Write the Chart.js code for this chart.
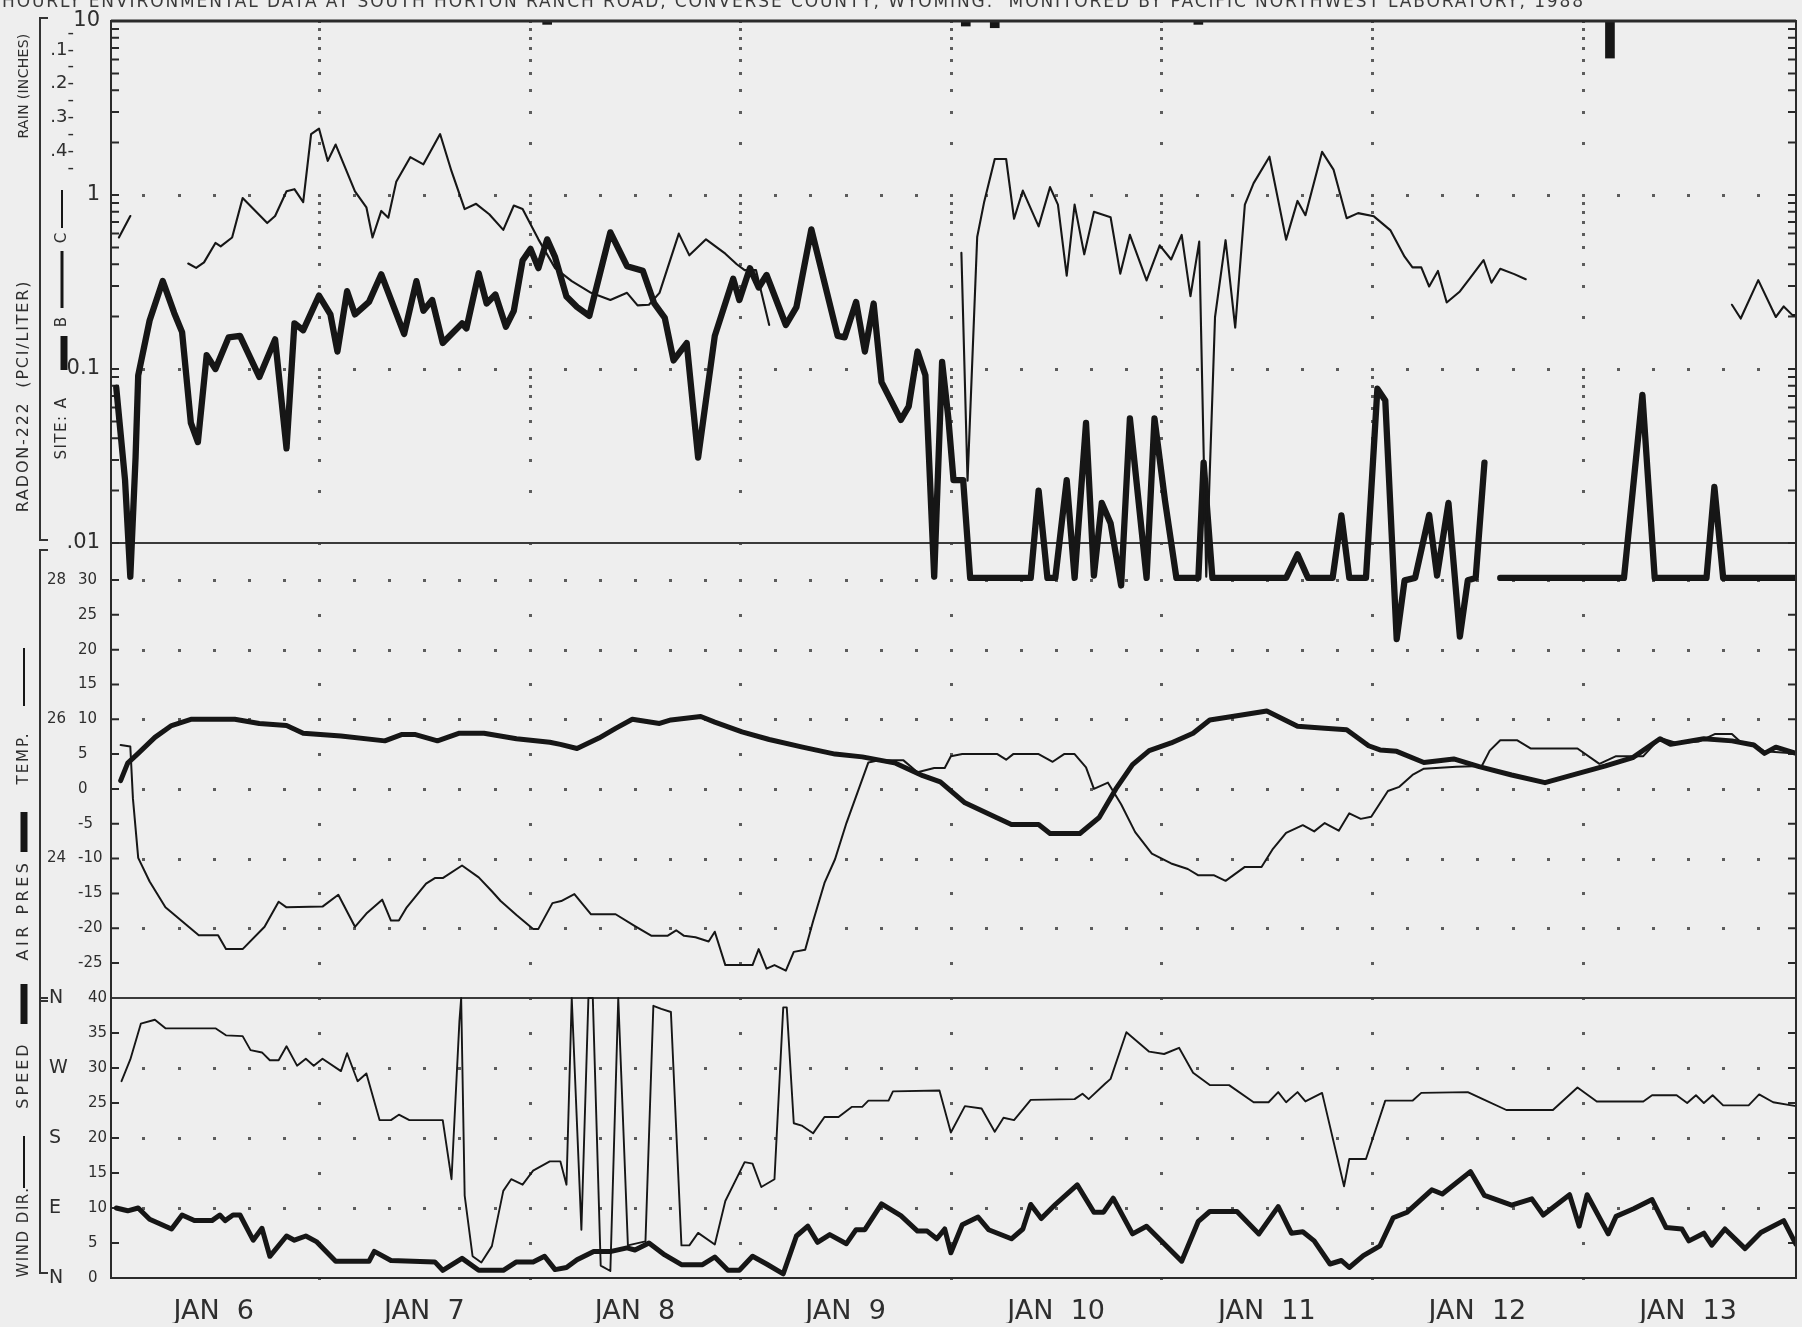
<!DOCTYPE html>
<html>
<head>
<meta charset="utf-8">
<title>Radon-222 and weather record, Jan 6 - Jan 13</title>
<script src="https://cdn.jsdelivr.net/npm/chart.js@4.4.1/dist/chart.umd.min.js"></script>
<style>
  html, body { margin: 0; padding: 0; background: #eeeeee; }
  #wrap { position: relative; width: 1802px; height: 1327px; overflow: hidden; }
  canvas { display: block; }
</style>
</head>
<body>
<div id="wrap"><canvas id="plot" width="1802" height="1327"></canvas></div>
<script>
// Time axis: hours since 00:00 on January 6.
const dayLabels = ['JAN  6', 'JAN  7', 'JAN  8', 'JAN  9', 'JAN  10', 'JAN  11', 'JAN  12', 'JAN  13'];
const dayLabelHours = [12, 36, 60, 84, 108, 132, 156, 180];

// Radon-222 concentration (pCi/L), site A (heavy trace)
const radonAHours = [0.9, 1.9, 2.5, 3.1, 3.4, 4.7, 6.2, 7.5, 8.4, 9.4, 10.2, 11.2, 12.2, 13.7, 15.0, 17.2, 19.0, 20.3, 21.2, 22.2,
  24.0, 25.3, 26.1, 27.2, 28.1, 29.7, 31.1, 33.7, 35.1, 35.9, 36.9, 38.1, 40.3, 40.8, 42.2, 43.1, 44.1, 45.3, 46.2, 47.2,
  48.1, 49.0, 50.0, 50.9, 52.2, 53.4, 54.8, 57.2, 59.1, 60.9, 62.2, 63.4, 64.4, 65.9, 67.2, 69.1, 71.2, 71.9, 73.1, 74.1,
  75.0, 77.2, 78.4, 80.1, 83.1, 83.9, 85.2, 86.2, 87.2, 88.1, 90.3, 91.2, 92.2, 93.1, 94.1, 95.0, 95.7, 96.3, 97.4, 98.2,
  105.1, 106.0, 107.0, 107.9, 109.2, 110.1, 111.4, 112.3, 113.2, 114.2, 115.4, 116.4, 118.3, 119.2, 120.4, 121.7, 124.2, 124.8, 125.8, 134.2,
  135.5, 136.7, 139.5, 140.5, 141.4, 143.3, 144.6, 145.5, 146.8, 147.7, 148.9, 150.5, 151.4, 152.7, 154.0, 154.9, 155.8, 156.8, 157.7, 158.6,
  172.7, 174.8, 176.2, 182.1, 183.0, 184.0, 192.3];
const radonAValues = [0.078, 0.023, 0.0064, 0.031, 0.092, 0.19, 0.32, 0.21, 0.163, 0.049, 0.038, 0.12, 0.10, 0.152, 0.155, 0.090, 0.148, 0.035, 0.183, 0.167,
  0.264, 0.206, 0.126, 0.28, 0.206, 0.243, 0.35, 0.159, 0.32, 0.216, 0.249, 0.141, 0.183, 0.171, 0.355, 0.238, 0.268, 0.175, 0.216, 0.42,
  0.49, 0.38, 0.556, 0.44, 0.261, 0.227, 0.202, 0.61, 0.39, 0.367, 0.238, 0.197, 0.112, 0.141, 0.031, 0.155, 0.33, 0.249, 0.38, 0.294,
  0.347, 0.179, 0.227, 0.635, 0.155, 0.152, 0.243, 0.126, 0.238, 0.084, 0.051, 0.061, 0.126, 0.092, 0.0064, 0.11, 0.053, 0.023, 0.023, 0.0063,
  0.0063, 0.020, 0.0063, 0.0063, 0.023, 0.0063, 0.049, 0.0065, 0.017, 0.013, 0.0057, 0.052, 0.0063, 0.052, 0.0175, 0.0063, 0.0063, 0.029, 0.0063, 0.0063,
  0.0086, 0.0063, 0.0063, 0.0144, 0.0063, 0.0063, 0.077, 0.066, 0.0028, 0.0061, 0.0063, 0.0145, 0.0065, 0.017, 0.0029, 0.0061, 0.0063, 0.029, null, 0.0063,
  0.0063, 0.071, 0.0063, 0.0063, 0.021, 0.0063, 0.0063];

// Radon-222 concentration (pCi/L), site C (light trace)
const radonCHours = [1.2, 2.5, 5.0, 9.1, 10.0, 10.9, 12.2, 12.8, 14.1, 15.3, 18.1, 19.0, 20.3, 21.2, 22.2, 23.1, 24.0, 25.0, 25.9, 28.1,
  29.4, 30.1, 31.1, 31.9, 32.8, 34.4, 35.9, 37.8, 39.1, 40.6, 41.9, 43.4, 45.0, 46.2, 47.2, 49.0, 50.9, 52.8, 55.0, 57.2,
  59.1, 60.3, 61.6, 62.8, 65.0, 66.2, 68.1, 70.3, 71.6, 72.5, 73.8, 75.3, 86.0, 97.2, 97.9, 99.0, 99.8, 101.0, 102.3, 103.2,
  104.2, 106.0, 107.3, 108.2, 109.2, 110.1, 111.2, 112.3, 114.2, 115.3, 116.4, 118.3, 119.8, 121.1, 122.3, 123.3, 124.3, 125.1, 126.1, 127.3,
  128.4, 129.5, 130.5, 132.3, 134.2, 135.5, 136.4, 138.3, 139.6, 141.1, 142.4, 144.2, 146.1, 147.7, 148.6, 149.6, 150.5, 151.5, 152.5, 154.0,
  155.2, 156.7, 157.6, 158.6, 160.2, 161.5, 173.0, 185.0, 186.0, 188.0, 190.0, 190.9, 191.9, 192.3];
const radonCValues = [0.57, 0.757, null, 0.404, 0.381, 0.41, 0.53, 0.507, 0.57, 0.96, 0.69, 0.757, 1.05, 1.08, 0.91, 2.24, 2.41, 1.57, 1.95, 1.05,
  0.85, 0.57, 0.81, 0.74, 1.19, 1.65, 1.5, 2.24, 1.37, 0.83, 0.89, 0.775, 0.63, 0.87, 0.83, 0.556, 0.38, 0.32, 0.274, 0.249,
  0.274, 0.232, 0.234, 0.274, 0.60, 0.45, 0.556, 0.46, 0.40, 0.37, 0.37, 0.179, null, 0.465, 0.0228, 0.574, 0.916, 1.61, 1.61, 0.73,
  1.06, 0.66, 1.11, 0.88, 0.344, 0.88, 0.456, 0.80, 0.745, 0.353, 0.59, 0.323, 0.514, 0.426, 0.59, 0.262, 0.54, 0.0064, 0.199, 0.55,
  0.173, 0.88, 1.17, 1.66, 0.554, 0.925, 0.766, 1.77, 1.40, 0.735, 0.787, 0.754, 0.626, 0.442, 0.384, 0.384, 0.298, 0.366, 0.241, 0.279,
  0.335, 0.423, 0.313, 0.377, 0.351, 0.328, null, 0.234, 0.195, 0.324, 0.199, 0.229, 0.204, 0.204];

// Rain (inches)
const rainHours = [50.0, 97.7, 101.0, 124.2, 171.1];
const rainInches = [0.01, 0.015, 0.02, 0.01, 0.11];

// Air temperature (light trace)
const tempHours = [1.4, 2.5, 2.8, 3.4, 4.7, 6.5, 8.4, 10.3, 12.5, 13.4, 15.3, 17.8, 19.4, 20.3, 24.4, 26.2, 28.1, 29.4, 31.2, 32.2,
  33.1, 34.0, 36.2, 37.2, 38.1, 40.3, 42.2, 43.7, 44.7, 46.5, 48.4, 49.0, 50.6, 51.6, 53.1, 55.0, 57.8, 60.0, 61.9, 63.7,
  64.7, 65.6, 66.9, 68.4, 69.1, 70.3, 73.4, 74.1, 75.0, 75.9, 77.2, 78.1, 79.4, 80.3, 81.6, 82.8, 84.1, 86.6, 87.8, 90.6,
  92.2, 94.1, 95.3, 96.0, 97.3, 101.3, 102.3, 103.1, 106.0, 107.6, 108.9, 110.1, 111.4, 112.3, 113.9, 115.4, 117.0, 118.9, 121.1, 123.0,
  124.2, 126.0, 127.3, 129.5, 131.4, 132.7, 134.2, 136.1, 137.4, 138.6, 140.2, 141.4, 142.7, 143.9, 145.8, 147.1, 148.6, 149.9, 153.6, 156.5,
  157.4, 158.6, 160.5, 162.1, 167.4, 169.9, 171.8, 174.9, 176.8, 178.7, 181.2, 183.1, 185.0, 186.2, 187.4, 188.7, 192.3];
const tempValues = [6.3, 6.1, -1.4, -9.9, -13.3, -17.0, -19.0, -21.0, -21.0, -23.0, -23.0, -19.8, -16.2, -17.0, -16.9, -15.2, -19.8, -17.9, -15.9, -18.9,
  -18.9, -17.0, -13.6, -12.8, -12.8, -11.0, -12.7, -14.7, -16.1, -18.1, -20.1, -20.1, -16.4, -16.1, -15.1, -18.0, -18.0, -19.7, -21.1, -21.1,
  -20.3, -21.1, -21.3, -21.9, -20.5, -25.3, -25.3, -23.0, -25.8, -25.3, -26.1, -23.4, -23.1, -19.0, -13.5, -10.1, -4.9, 3.8, 4.1, 4.1,
  2.4, 3.0, 3.0, 4.7, 5.0, 5.0, 4.2, 5.0, 5.0, 3.9, 5.0, 5.0, 3.1, 0.0, 0.9, -2.2, -6.2, -9.3, -10.7, -11.5,
  -12.4, -12.4, -13.2, -11.2, -11.2, -8.6, -6.3, -5.2, -6.1, -4.9, -6.0, -3.5, -4.3, -4.0, -0.3, 0.3, 2.0, 2.9, 3.2, 3.3,
  5.5, 7.0, 7.0, 5.8, 5.8, 3.6, 4.7, 4.7, 7.3, 6.6, 6.8, 7.9, 7.9, 6.5, 6.5, 5.4, 5.1];

// Air pressure (heavy trace)
const pressureHours = [1.4, 2.2, 3.4, 5.3, 7.2, 9.4, 14.4, 17.2, 20.3, 22.2, 26.5, 31.5, 33.4, 35.0, 37.5, 40.0, 42.8, 46.5, 50.3, 51.5,
  53.4, 55.9, 57.8, 59.7, 62.8, 64.1, 67.5, 69.1, 72.2, 75.3, 79.1, 82.8, 85.9, 89.7, 92.8, 94.8, 97.6, 101.0, 102.9, 106.0,
  107.3, 110.7, 112.9, 114.8, 116.7, 118.6, 121.1, 123.6, 125.5, 128.6, 132.0, 135.5, 138.6, 141.1, 143.6, 144.9, 146.8, 149.9, 153.3, 156.2,
  159.9, 163.7, 167.4, 170.6, 173.7, 176.8, 178.0, 181.8, 185.0, 187.5, 188.7, 190.0, 192.3];
const pressureValues = [25.12, 25.37, 25.51, 25.74, 25.91, 26.0, 26.0, 25.94, 25.91, 25.8, 25.76, 25.69, 25.78, 25.78, 25.69, 25.8, 25.8, 25.72, 25.67, 25.64,
  25.58, 25.73, 25.87, 26.0, 25.94, 25.99, 26.04, 25.96, 25.82, 25.71, 25.6, 25.5, 25.46, 25.37, 25.19, 25.1, 24.8, 24.6, 24.49, 24.49,
  24.36, 24.36, 24.59, 25.0, 25.35, 25.55, 25.66, 25.8, 25.99, 26.05, 26.12, 25.9, 25.87, 25.85, 25.62, 25.56, 25.54, 25.38, 25.43, 25.32,
  25.2, 25.09, 25.22, 25.33, 25.45, 25.72, 25.64, 25.72, 25.69, 25.63, 25.51, 25.6, 25.51];

// Wind direction (degrees from north, light trace)
const windDirHours = [1.5, 2.5, 3.7, 5.3, 6.5, 12.2, 13.4, 15.3, 16.2, 17.5, 18.4, 19.4, 20.3, 21.5, 22.5, 23.4, 24.4, 26.5, 27.2, 28.4,
  29.4, 30.9, 32.2, 33.1, 34.3, 38.1, 39.1, 40.0, 40.2, 40.6, 41.5, 42.5, 43.7, 45.0, 45.9, 47.2, 48.4, 50.3, 51.5, 52.2,
  52.8, 53.9, 54.7, 55.2, 56.1, 57.2, 58.1, 59.2, 61.2, 62.1, 63.0, 64.1, 65.3, 66.2, 67.2, 69.1, 70.3, 72.5, 73.4, 74.4,
  75.9, 76.9, 77.3, 78.1, 79.0, 80.3, 81.6, 83.2, 84.7, 85.9, 86.6, 88.9, 89.4, 94.7, 96.0, 97.6, 99.5, 101.0, 102.0, 103.2,
  105.1, 110.1, 111.0, 111.7, 113.6, 114.2, 116.0, 118.6, 120.3, 122.0, 123.6, 125.5, 127.7, 130.5, 132.2, 133.3, 134.2, 135.5, 136.4, 138.3,
  140.8, 141.4, 143.3, 145.5, 148.6, 149.6, 154.9, 156.8, 159.3, 164.6, 167.4, 169.6, 174.9, 175.9, 178.7, 179.9, 180.9, 181.8, 182.8, 184.0,
  186.9, 188.1, 189.7, 192.3];
const windDirValues = [253, 281, 327, 332, 321, 321, 312, 311, 293, 290, 280, 280, 298, 273, 282, 273, 282, 266, 289, 253,
  263, 203, 203, 210, 203, 203, 127, 330, 360, 106, 28, 20, 41, 112, 127, 120, 138, 150, 150, 120,
  360, 62, 360, 360, 16, 9, 360, 42, 47, 350, 346, 342, 42, 42, 58, 43, 99, 149, 147, 117,
  127, 348, 348, 199, 196, 186, 207, 207, 220, 220, 228, 228, 240, 241, 187, 221, 218, 188, 206, 203,
  229, 230, 237, 230, 250, 256, 316, 291, 288, 296, 264, 248, 248, 226, 226, 239, 226, 239, 227, 238,
  118, 153, 153, 228, 228, 238, 239, 229, 216, 216, 245, 227, 227, 235, 235, 225, 235, 225, 235, 222,
  222, 236, 226, 221];

// Wind speed (heavy trace)
const windSpeedHours = [0.9, 2.2, 3.4, 4.7, 7.2, 8.4, 9.8, 11.8, 12.7, 13.3, 14.2, 15.0, 16.5, 17.5, 18.4, 20.3, 21.2, 22.5, 23.7, 25.9,
  29.7, 30.3, 32.2, 37.2, 38.1, 40.3, 42.2, 45.0, 46.5, 48.4, 49.7, 50.9, 52.2, 53.4, 55.3, 57.3, 59.1, 60.0, 61.6, 63.4,
  65.3, 67.7, 69.1, 70.6, 71.9, 73.4, 75.0, 76.9, 78.4, 79.7, 80.8, 82.2, 84.1, 85.2, 86.2, 88.1, 90.3, 92.2, 93.3, 94.4,
  95.3, 96.0, 97.3, 99.1, 100.3, 102.9, 104.2, 105.1, 106.3, 107.9, 110.4, 112.3, 113.4, 114.5, 116.7, 118.3, 122.3, 124.2, 125.5, 128.6,
  131.1, 133.3, 134.8, 136.1, 137.4, 139.2, 140.5, 141.4, 143.0, 144.9, 146.4, 148.0, 150.8, 152.0, 155.2, 156.8, 159.9, 162.2, 163.5, 166.5,
  167.6, 168.5, 170.9, 171.8, 173.8, 175.9, 177.5, 179.3, 180.1, 181.8, 182.7, 184.2, 186.5, 188.3, 190.9, 192.3];
const windSpeedValues = [10.0, 9.6, 10.0, 8.4, 7.0, 9.0, 8.2, 8.2, 9.0, 8.2, 9.0, 9.0, 5.4, 7.1, 3.1, 6.0, 5.4, 6.0, 5.2, 2.4,
  2.4, 3.8, 2.5, 2.3, 1.1, 2.8, 1.1, 1.1, 2.3, 2.3, 3.1, 1.2, 1.5, 2.6, 3.8, 3.8, 4.3, 4.0, 5.0, 3.3,
  1.9, 1.9, 3.0, 1.1, 1.1, 3.1, 2.0, 0.6, 6.0, 7.4, 5.1, 6.2, 4.9, 6.9, 6.9, 10.6, 8.9, 6.7, 6.7, 5.6,
  7.0, 3.6, 7.6, 8.7, 6.9, 5.6, 7.0, 10.5, 8.5, 10.5, 13.3, 9.4, 9.4, 11.4, 6.3, 7.4, 2.4, 8.1, 9.5, 9.5,
  6.3, 10.2, 6.4, 6.6, 5.3, 2.0, 2.5, 1.5, 3.2, 4.6, 8.6, 9.4, 12.6, 12.0, 15.2, 11.8, 10.4, 11.3, 9.0, 11.9,
  7.4, 11.9, 6.3, 8.8, 9.9, 11.2, 7.2, 7.0, 5.3, 6.4, 4.7, 7.0, 4.2, 6.5, 8.2, 4.8];

// Axis tick labels
const radonTickValues = [10, 1, 0.1, 0.01];
const radonTickLabels = ['10', '1', '0.1', '.01'];
const rainTickValues = [0.05, 0.1, 0.15, 0.2, 0.25, 0.3, 0.35, 0.4, 0.45];
const rainTickLabels = ['-', '.1-', '-', '.2-', '-', '.3-', '-', '.4-', '-'];
const tempTickValues = [30, 25, 20, 15, 10, 5, 0, -5, -10, -15, -20, -25];
const pressureTickValues = [28, 26, 24];
const speedTickValues = [40, 35, 30, 25, 20, 15, 10, 5, 0];
const windDirTickValues = [360, 270, 180, 90, 0];
const windDirTickLabels = ['N', 'W', 'S', 'E', 'N'];

// ---------------------------------------------------------------------------
const FAMILY = "'DejaVu Sans', 'Liberation Sans', sans-serif";
const INK = '#161616';
const TEXT = '#2e2e2e';
const pairs = (xs, ys) => xs.map((x, i) => ({ x: x, y: ys[i] }));
const fixedTicks = values => scale => { scale.ticks = values.map(v => ({ value: v })); };
// side axes take no layout room; their labels sit in the left margin
const zeroWidth = scale => {
  scale.width = 0;
  scale.paddingTop = scale.paddingBottom = scale.paddingLeft = scale.paddingRight = 0;
};
const measure = (labels, size) => {
  const c = document.createElement('canvas').getContext('2d');
  c.font = size + 'px ' + FAMILY;
  return Math.max.apply(null, labels.map(l => c.measureText(l).width));
};

// Panel geometry (pixels per unit inside the shared plot height)
const PLOT_LEFT = 111, PLOT_TOP = 21, PLOT_BOTTOM = 1278, PLOT_H = PLOT_BOTTOM - PLOT_TOP;
const X_AXIS_H = 45;
const radonDecadePx = 174;              // 10 sits on the top edge
const tempPxPerDeg = 6.964, tempAt30 = 580;
const speedPxPerUnit = 7.0;             // 0 sits on the bottom edge
const rainPxPerInch = 337;              // rain hangs from the top edge

const tempMax = 30 + (tempAt30 - PLOT_TOP) / tempPxPerDeg;
const tempMin = 30 - (PLOT_BOTTOM - tempAt30) / tempPxPerDeg;
const presOf = t => 24 + (t + 10) / 10;   // 24 in. at -10, 28 in. at 30
const speedMax = PLOT_H / speedPxPerUnit;
const rainMax = PLOT_H / rainPxPerInch;

const radonGridRows = [1, 0.1];
const tempGridRows = [30, 20, 10, 0, -10, -20];
const speedGridRows = [30, 20, 10];
const radonMinorTicks = [];
[0.01, 0.1, 1].forEach(d => { for (let m = 1; m < 10; m++) radonMinorTicks.push(m * d); });
radonMinorTicks.push(10);

const RADON_FONT = 21, RAIN_FONT = 18;
const radonLabelRight = 100, rainLabelRight = 74;

function vText(ctx, str, x, yc, size, spacing) {
  ctx.save();
  ctx.translate(x, yc);
  ctx.rotate(-Math.PI / 2);
  ctx.font = size + 'px ' + FAMILY;
  ctx.letterSpacing = (spacing || 0) + 'px';
  ctx.fillStyle = TEXT;
  ctx.textAlign = 'center';
  ctx.textBaseline = 'middle';
  ctx.fillText(str, 0, 0);
  ctx.restore();
}
function vStroke(ctx, x, y0, y1, w) {
  ctx.save();
  ctx.strokeStyle = INK;
  ctx.lineWidth = w;
  ctx.beginPath();
  ctx.moveTo(x, y0);
  ctx.lineTo(x, y1);
  ctx.stroke();
  ctx.restore();
}

const plotterFrame = {
  id: 'plotterFrame',
  beforeDatasetsDraw(chart) {
    const { ctx, chartArea: a, scales: s } = chart;
    ctx.save();
    // dotted grid
    ctx.fillStyle = '#5c5c5c';
    const dot = (x, y) => ctx.fillRect(Math.round(x) - 1, Math.round(y) - 1, 3, 3);
    const rowYs = [].concat(
      radonGridRows.map(v => s.yRadon.getPixelForValue(v)),
      tempGridRows.map(v => s.yTemp.getPixelForValue(v)),
      speedGridRows.map(v => s.ySpeed.getPixelForValue(v)));
    for (let h = 4; h < 192; h += 4) {
      const x = s.x.getPixelForValue(h);
      rowYs.forEach(y => dot(x, y));
    }
    const colYs = [].concat(
      radonMinorTicks.map(v => s.yRadon.getPixelForValue(v)),
      tempTickValues.map(v => s.yTemp.getPixelForValue(v)),
      speedTickValues.map(v => s.ySpeed.getPixelForValue(v)));
    for (let h = 24; h < 192; h += 24) {
      const x = s.x.getPixelForValue(h);
      colYs.forEach(y => dot(x, y));
    }
    // panel separators
    ctx.strokeStyle = '#3a3a3a';
    ctx.lineWidth = 2;
    [s.yRadon.getPixelForValue(0.01), s.ySpeed.getPixelForValue(40)].forEach(y => {
      ctx.beginPath();
      ctx.moveTo(a.left, y);
      ctx.lineTo(a.right, y);
      ctx.stroke();
    });
    // inward tick marks on both side edges
    ctx.strokeStyle = '#2a2a2a';
    ctx.lineWidth = 2;
    const tickYs = [].concat(
      radonMinorTicks.map(v => s.yRadon.getPixelForValue(v)),
      tempTickValues.map(v => s.yTemp.getPixelForValue(v)),
      speedTickValues.slice(1, -1).map(v => s.ySpeed.getPixelForValue(v)));
    tickYs.forEach(y => {
      ctx.beginPath();
      ctx.moveTo(a.left, y); ctx.lineTo(a.left + 8, y);
      ctx.moveTo(a.right, y); ctx.lineTo(a.right - 8, y);
      ctx.stroke();
    });
    ctx.restore();
  },
  afterDraw(chart) {
    const { ctx, chartArea: a, scales: s } = chart;
    ctx.save();
    // plot frame
    ctx.strokeStyle = '#2a2a2a';
    ctx.lineWidth = 2;
    ctx.strokeRect(a.left, a.top, a.right - a.left, a.bottom - a.top);
    ctx.lineWidth = 3;
    ctx.beginPath(); ctx.moveTo(a.left, a.top); ctx.lineTo(a.right, a.top); ctx.stroke();

    // brackets grouping each panel's label column
    ctx.lineWidth = 2;
    ctx.strokeStyle = '#333';
    const bx = 40, serif = 8;
    const radonTop = s.yRadon.getPixelForValue(10) - 3;
    const radonBot = s.yRadon.getPixelForValue(0.01) - 3;
    const tempTop = s.yRadon.getPixelForValue(0.01) + 7;
    const windTop = s.ySpeed.getPixelForValue(40);
    const windBot = s.ySpeed.getPixelForValue(0) - 5;
    [[radonTop, radonBot], [tempTop, windTop + 3], [windTop, windBot]].forEach(([t, b]) => {
      ctx.beginPath();
      ctx.moveTo(bx + serif, t); ctx.lineTo(bx, t); ctx.lineTo(bx, b); ctx.lineTo(bx + serif, b);
      ctx.stroke();
    });

    // vertical panel titles with line-style keys
    const cx = 24;
    vText(ctx, 'RAIN (INCHES)', cx, 86, 14, 0.3);
    vText(ctx, 'RADON-222  (PCI/LITER)', cx, 396, 16, 1.8);
    const sx = 62;
    vText(ctx, 'SITE: A', sx, 428, 15, 1.5);
    vStroke(ctx, sx + 2, 336, 370, 7);
    vText(ctx, 'B', sx, 322, 15, 0);
    vStroke(ctx, sx, 251, 308, 3);
    vText(ctx, 'C', sx, 238, 15, 0);
    vStroke(ctx, sx, 190, 228, 2);

    vStroke(ctx, cx, 648, 706, 2);
    vText(ctx, 'TEMP.', cx, 758, 15, 2);
    vStroke(ctx, cx, 812, 852, 7);
    vText(ctx, 'AIR PRES', cx, 910, 16, 3.5);

    vStroke(ctx, cx, 984, 1024, 7);
    vText(ctx, 'SPEED', cx, 1075, 16, 3);
    vStroke(ctx, cx, 1136, 1188, 2);
    vText(ctx, 'WIND DIR.', cx, 1232, 15, 1.5);

    // running header along the top edge
    ctx.font = '17px ' + FAMILY;
    ctx.letterSpacing = '1.9px';
    ctx.fillStyle = '#3a3a3a';
    ctx.textAlign = 'left';
    ctx.textBaseline = 'alphabetic';
    ctx.fillText('HOURLY ENVIRONMENTAL DATA AT SOUTH HORTON RANCH ROAD, CONVERSE COUNTY, WYOMING.  MONITORED BY PACIFIC NORTHWEST LABORATORY, 1988', 2, 7);
    ctx.restore();
  }
};

const labelFont = size => ({ family: FAMILY, size: size });
const sideTicks = extra => Object.assign({ color: TEXT, autoSkip: false }, extra);

new Chart(document.getElementById('plot'), {
  type: 'line',
  data: {
    datasets: [
      { label: 'Rain', type: 'bar', data: pairs(rainHours, rainInches), yAxisID: 'yRain',
        backgroundColor: INK, borderWidth: 0, barThickness: 9 },
      { label: 'Radon-222, site C', data: pairs(radonCHours, radonCValues), yAxisID: 'yRadon',
        borderColor: INK, borderWidth: 2.1 },
      { label: 'Radon-222, site A', data: pairs(radonAHours, radonAValues), yAxisID: 'yRadon',
        borderColor: INK, borderWidth: 6.3 },
      { label: 'Temperature', data: pairs(tempHours, tempValues), yAxisID: 'yTemp',
        borderColor: INK, borderWidth: 2 },
      { label: 'Air pressure', data: pairs(pressureHours, pressureValues), yAxisID: 'yPres',
        borderColor: INK, borderWidth: 5 },
      { label: 'Wind direction', data: pairs(windDirHours, windDirValues), yAxisID: 'yDir',
        borderColor: INK, borderWidth: 1.9 },
      { label: 'Wind speed', data: pairs(windSpeedHours, windSpeedValues), yAxisID: 'ySpeed',
        borderColor: INK, borderWidth: 5 }
    ]
  },
  options: {
    responsive: false,
    animation: false,
    devicePixelRatio: 1,
    layout: {
      autoPadding: false,
      padding: { left: PLOT_LEFT, right: 6, top: PLOT_TOP, bottom: 1327 - PLOT_BOTTOM - X_AXIS_H }
    },
    elements: {
      point: { radius: 0, hoverRadius: 0 },
      line: { tension: 0, borderJoinStyle: 'round', borderCapStyle: 'round', fill: false }
    },
    plugins: { legend: { display: false }, tooltip: { enabled: false } },
    events: [],
    scales: {
      x: {
        type: 'linear', position: 'bottom', min: 0.3, max: 192.3, offset: false,
        afterBuildTicks: fixedTicks(dayLabelHours),
        afterFit: scale => {
          scale.height = X_AXIS_H;
          scale.paddingLeft = scale.paddingRight = scale.paddingTop = scale.paddingBottom = 0;
        },
        grid: { display: false, offset: false }, border: { display: false },
        ticks: { callback: (v, i) => dayLabels[i], font: labelFont(27), color: TEXT, padding: 10,
                 maxRotation: 0, minRotation: 0, autoSkip: false }
      },
      yRadon: {
        type: 'logarithmic', position: 'left',
        min: Math.pow(10, 1 - PLOT_H / radonDecadePx), max: 10,
        afterBuildTicks: fixedTicks(radonTickValues), afterFit: zeroWidth,
        grid: { display: false }, border: { display: false },
        ticks: sideTicks({ callback: (v, i) => radonTickLabels[i], font: labelFont(RADON_FONT),
                 mirror: true, crossAlign: 'far',
                 padding: radonLabelRight - PLOT_LEFT - measure(radonTickLabels, RADON_FONT) })
      },
      yRain: {
        type: 'linear', position: 'left', reverse: true, min: 0, max: rainMax,
        afterBuildTicks: fixedTicks(rainTickValues), afterFit: zeroWidth,
        grid: { display: false }, border: { display: false },
        // the plotter prints these labels a little above their marks: a blank
        // second line lifts each label slightly
        ticks: sideTicks({ callback: (v, i) => [rainTickLabels[i], ''],
                 font: { family: FAMILY, size: RAIN_FONT, lineHeight: 0.53 },
                 mirror: true, crossAlign: 'far',
                 padding: rainLabelRight - PLOT_LEFT - measure(rainTickLabels, RAIN_FONT) })
      },
      yTemp: {
        type: 'linear', position: 'left', min: tempMin, max: tempMax,
        afterBuildTicks: fixedTicks(tempTickValues), afterFit: zeroWidth,
        grid: { display: false }, border: { display: false },
        ticks: sideTicks({ callback: v => String(v), font: labelFont(15),
                 mirror: true, crossAlign: 'near', padding: -33 })
      },
      yPres: {
        type: 'linear', position: 'left', min: presOf(tempMin), max: presOf(tempMax),
        afterBuildTicks: fixedTicks(pressureTickValues), afterFit: zeroWidth,
        grid: { display: false }, border: { display: false },
        ticks: sideTicks({ callback: v => String(v), font: labelFont(15),
                 mirror: true, crossAlign: 'near', padding: -64 })
      },
      ySpeed: {
        type: 'linear', position: 'left', min: 0, max: speedMax,
        afterBuildTicks: fixedTicks(speedTickValues), afterFit: zeroWidth,
        grid: { display: false }, border: { display: false },
        ticks: sideTicks({ callback: v => String(v), font: labelFont(15),
                 mirror: true, crossAlign: 'near', padding: -23 })
      },
      yDir: {
        type: 'linear', position: 'left', min: 0, max: speedMax * 9,
        afterBuildTicks: fixedTicks(windDirTickValues), afterFit: zeroWidth,
        grid: { display: false }, border: { display: false },
        ticks: sideTicks({ callback: (v, i) => windDirTickLabels[i], font: labelFont(19),
                 mirror: true, crossAlign: 'near', padding: -62 })
      }
    }
  },
  plugins: [plotterFrame]
});
</script>
</body>
</html>
